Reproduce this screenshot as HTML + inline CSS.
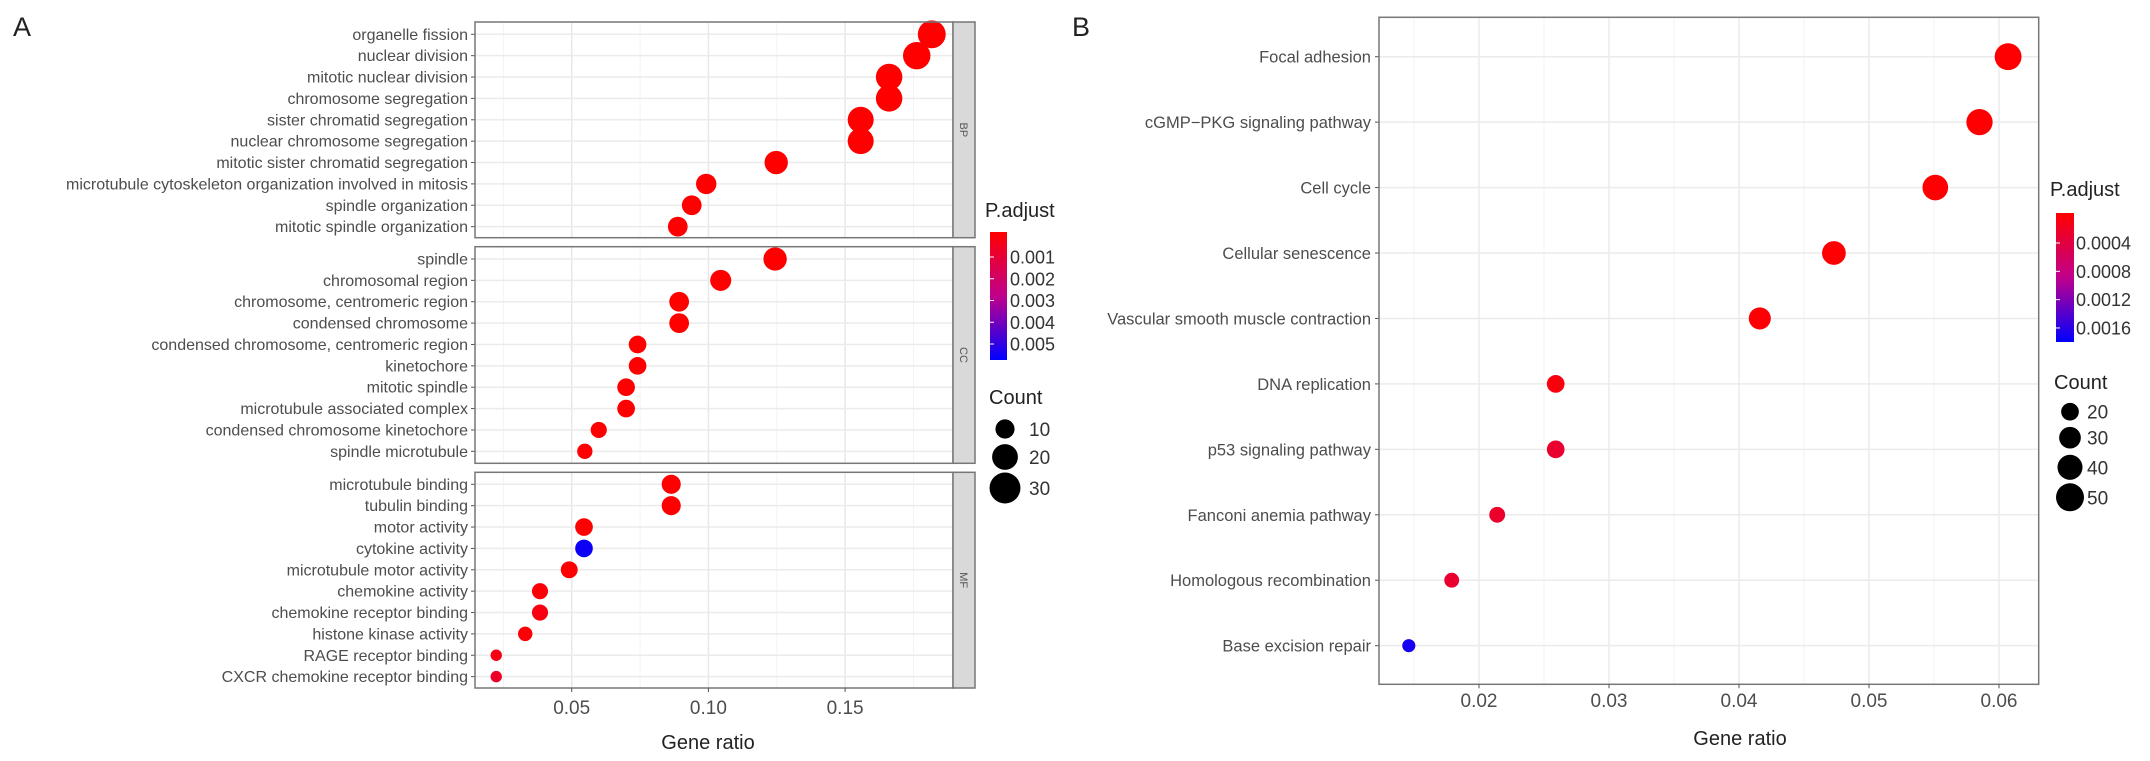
<!DOCTYPE html>
<html><head><meta charset="utf-8"><style>
html,body{margin:0;padding:0;background:#fff}
svg{display:block;font-family:"Liberation Sans",Arial,sans-serif}
</style></head><body>
<svg id="chart" width="2150" height="761" viewBox="0 0 2150 761" xmlns="http://www.w3.org/2000/svg">
<defs>
<linearGradient id="gradA" x1="0" y1="0" x2="0" y2="1"><stop offset="0" stop-color="#ff0000"/><stop offset="0.5" stop-color="#c0008c"/><stop offset="1" stop-color="#0000ff"/></linearGradient>
<linearGradient id="gradB" x1="0" y1="0" x2="0" y2="1"><stop offset="0" stop-color="#ff0000"/><stop offset="0.5" stop-color="#c0008c"/><stop offset="1" stop-color="#0000ff"/></linearGradient>
</defs>
<text x="13" y="36" font-size="27" fill="#222">A</text>
<text x="1072" y="36" font-size="27" fill="#222">B</text>
<g id="gA"></g>
<g id="gB"></g>
</svg>
<script>
// ---------- Panel A data ----------
const bpTerms=["organelle fission","nuclear division","mitotic nuclear division","chromosome segregation","sister chromatid segregation","nuclear chromosome segregation","mitotic sister chromatid segregation","microtubule cytoskeleton organization involved in mitosis","spindle organization","mitotic spindle organization"];
const bpRatio=[0.1817,0.1762,0.1661,0.1661,0.1557,0.1557,0.1248,0.0992,0.0939,0.0888];
const bpCount=[30,29,27,27,26,26,21,16,15,15];
const bpPadj=[0.00001,0.00001,0.00001,0.00001,0.00001,0.00001,0.00001,0.00002,0.00002,0.00003];
const ccTerms=["spindle","chromosomal region","chromosome, centromeric region","condensed chromosome","condensed chromosome, centromeric region","kinetochore","mitotic spindle","microtubule associated complex","condensed chromosome kinetochore","spindle microtubule"];
const ccRatio=[0.1244,0.1045,0.0893,0.0893,0.0741,0.0741,0.0699,0.0699,0.0599,0.0548];
const ccCount=[21,17,15,15,12,12,12,12,10,9];
const ccPadj=[0.00001,0.00001,0.00002,0.00002,0.00003,0.00003,0.00003,0.00004,0.00005,0.00005];
const mfTerms=["microtubule binding","tubulin binding","motor activity","cytokine activity","microtubule motor activity","chemokine activity","chemokine receptor binding","histone kinase activity","RAGE receptor binding","CXCR chemokine receptor binding"];
const mfRatio=[0.0864,0.0864,0.0545,0.0545,0.0491,0.0384,0.0384,0.033,0.0224,0.0224];
const mfCount=[14,14,12,12,11,10,10,8,5,5];
const mfPadj=[0.00002,0.00002,0.00005,0.0055,0.00005,0.0001,0.0003,0.0001,0.0004,0.0008];
const aTicks=[0.05,0.10,0.15];
const aTickLabels=["0.05","0.10","0.15"];
const aMinor=[0.025,0.075,0.125,0.175];
const aLegPadj=[0.001,0.002,0.003,0.004,0.005];
const aLegCount=[10,20,30];
// ---------- Panel B data ----------
const bTerms=["Focal adhesion","cGMP\u2212PKG signaling pathway","Cell cycle","Cellular senescence","Vascular smooth muscle contraction","DNA replication","p53 signaling pathway","Fanconi anemia pathway","Homologous recombination","Base excision repair"];
const bRatio=[0.0607,0.0585,0.0551,0.0473,0.0416,0.0259,0.0259,0.0214,0.0179,0.0146];
const bCount=[46,44,42,36,31,20,20,16,14,11];
const bPadj=[0.00001,0.00001,0.00001,0.00001,0.00002,0.00008,0.0003,0.00028,0.0003,0.0017];
const bTicks=[0.02,0.03,0.04,0.05,0.06];
const bTickLabels=["0.02","0.03","0.04","0.05","0.06"];
const bMinor=[0.015,0.025,0.035,0.045,0.055];
const bLegPadj=[0.0004,0.0008,0.0012,0.0016];
const bLegCount=[20,30,40,50];

const NS="http://www.w3.org/2000/svg";
function mk(parent,tag,attrs,text){const e=document.createElementNS(NS,tag);for(const k in attrs)e.setAttribute(k,attrs[k]);if(text!==undefined)e.textContent=text;parent.appendChild(e);return e;}
function colorFor(p,max){let t=Math.max(0,Math.min(1,p/max));
 // red -> magenta/purple -> blue
 let r,g,b;if(t<0.5){const u=t/0.5;r=255-(255-192)*u;g=0;b=140*u;}else{const u=(t-0.5)/0.5;r=192*(1-u);g=0;b=140+(255-140)*u;}
 return `rgb(${Math.round(r)},${Math.round(g)},${Math.round(b)})`;}

// ---------- Panel A ----------
const gA=document.getElementById('gA');
const axL=475,axR=953;
const xA=v=>435+(v)*2734;
const panels=[
 {name:"bp",strip:"BP",terms:bpTerms,ratio:bpRatio,count:bpCount,padj:bpPadj,top:22,bot:237.7,y0:34.3},
 {name:"cc",strip:"CC",terms:ccTerms,ratio:ccRatio,count:ccCount,padj:ccPadj,top:246.7,bot:463.3,y0:259},
 {name:"mf",strip:"MF",terms:mfTerms,ratio:mfRatio,count:mfCount,padj:mfPadj,top:472.3,bot:688,y0:484.3}];
const stepA=21.37;
const rA=c=>2.55*Math.sqrt(c);
const padjMaxA=0.0057;
panels.forEach(p=>{
 const g=mk(gA,'g',{});
 
 
 const bg=mk(g,'rect',{x:axL,y:p.top,width:axR-axL,height:p.bot-p.top,fill:'#fff'});
 
 
 aMinor.forEach(v=>{const l=mk(g,'line',{x1:xA(v),x2:xA(v),y1:p.top,y2:p.bot,stroke:'#f3f3f3','stroke-width':1});
  
  });
 aTicks.forEach(v=>{const l=mk(g,'line',{x1:xA(v),x2:xA(v),y1:p.top,y2:p.bot,stroke:'#e8e8e8','stroke-width':1.5});
  
  });
 p.terms.forEach((t,i)=>{const y=p.y0+i*stepA;
  const l=mk(g,'line',{x1:axL,x2:axR,y1:y,y2:y,stroke:'#ebebeb','stroke-width':1.5});
  
  
  const tk=mk(g,'line',{x1:axL-4,x2:axL,y1:y,y2:y,stroke:'#555','stroke-width':1});
  
  
  const tx=mk(g,'text',{x:axL-7,y:y+5.5,'text-anchor':'end','font-size':16,fill:'#4d4d4d'},t);
  
  
 });
 p.terms.forEach((t,i)=>{const y=p.y0+i*stepA;
  const c=mk(g,'circle',{cx:xA(p.ratio[i]),cy:y,r:rA(p.count[i]),fill:colorFor(p.padj[i],padjMaxA)});
  
  
 });
 const br=mk(g,'rect',{x:axL,y:p.top,width:axR-axL,height:p.bot-p.top,fill:'none',stroke:'#777','stroke-width':1.5});
 
 
 const st=mk(g,'rect',{x:axR,y:p.top,width:22,height:p.bot-p.top,fill:'#d9d9d9',stroke:'#777','stroke-width':1.5});
 
 
 const cy=(p.top+p.bot)/2;
 const sl=mk(g,'text',{x:964,y:cy,'text-anchor':'middle','font-size':11,fill:'#555',transform:`rotate(90 964 ${cy})`,dy:4},p.strip);
 
 
});
aTicks.forEach((v,i)=>{
 const tk=mk(gA,'line',{x1:xA(v),x2:xA(v),y1:688,y2:692,stroke:'#555','stroke-width':1});
 
 
 const t=mk(gA,'text',{x:xA(v),y:714,'text-anchor':'middle','font-size':19,fill:'#4d4d4d'},aTickLabels[i]);
 
 
});
{const t=mk(gA,'text',{x:708,y:749,'text-anchor':'middle','font-size':20,fill:'#222'},'Gene ratio');
 
 }
// legend A
{const lg=mk(gA,'g',{});
 
 
 const t=mk(lg,'text',{x:985,y:217,'font-size':20,fill:'#222'},'P.adjust');
 
 
 const bar=mk(lg,'rect',{x:990,y:232,width:17,height:128,fill:'url(#gradA)'});
 
 
 const yP=v=>257+(v-0.001)*21750;
 aLegPadj.forEach(v=>{
  const tt=mk(lg,'text',{x:1010,y:yP(v)+6.5,'font-size':18,fill:'#333'},v.toFixed(3));
  
  
  const tk=mk(lg,'line',{x1:990,x2:994,y1:yP(v),y2:yP(v),stroke:'#fff','stroke-width':1});
  
  
 });
 const ct=mk(lg,'text',{x:989,y:404,'font-size':20,fill:'#222'},'Count');
 
 
 const ys=[429,457,488];
 aLegCount.forEach((c,i)=>{
  const d=mk(lg,'circle',{cx:1005,cy:ys[i],r:rA(c)+1.5,fill:'#000'});
  
  
  const tt=mk(lg,'text',{x:1029,y:ys[i]+7,'font-size':19,fill:'#333'},String(c));
  
  
 });
}

// ---------- Panel B ----------
const gB=document.getElementById('gB');
const bL=1379,bR=2038.7,bT=17.3,bBot=684.3;
const xB=v=>1479+(v-0.02)*13000;
const yB=i=>56.7+i*65.44;
const rB=c=>1.98*Math.sqrt(c);
const padjMaxB=0.0018;
{const bg=mk(gB,'rect',{x:bL,y:bT,width:bR-bL,height:bBot-bT,fill:'#fff'});
 
 }
bMinor.forEach(v=>{const l=mk(gB,'line',{x1:xB(v),x2:xB(v),y1:bT,y2:bBot,stroke:'#f3f3f3','stroke-width':1});
 
 });
bTicks.forEach(v=>{const l=mk(gB,'line',{x1:xB(v),x2:xB(v),y1:bT,y2:bBot,stroke:'#ebebeb','stroke-width':1.5});
 
 });
bTerms.forEach((t,i)=>{const y=yB(i);
 const l=mk(gB,'line',{x1:bL,x2:bR,y1:y,y2:y,stroke:'#ebebeb','stroke-width':1.5});
 
 
 const tk=mk(gB,'line',{x1:bL-4,x2:bL,y1:y,y2:y,stroke:'#555','stroke-width':1});
 
 
 const tx=mk(gB,'text',{x:bL-8,y:y+6,'text-anchor':'end','font-size':16.5,fill:'#4d4d4d'},t);
 
 
});
bTerms.forEach((t,i)=>{
 const c=mk(gB,'circle',{cx:xB(bRatio[i]),cy:yB(i),r:rB(bCount[i]),fill:colorFor(bPadj[i],padjMaxB)});
 
 
});
{const br=mk(gB,'rect',{x:bL,y:bT,width:bR-bL,height:bBot-bT,fill:'none',stroke:'#777','stroke-width':1.5});
 
 }
bTicks.forEach((v,i)=>{
 const tk=mk(gB,'line',{x1:xB(v),x2:xB(v),y1:bBot,y2:bBot+4,stroke:'#555','stroke-width':1});
 
 
 const t=mk(gB,'text',{x:xB(v),y:707,'text-anchor':'middle','font-size':19,fill:'#4d4d4d'},bTickLabels[i]);
 
 
});
{const t=mk(gB,'text',{x:1740,y:745,'text-anchor':'middle','font-size':20,fill:'#222'},'Gene ratio');
 
 }
{const lg=mk(gB,'g',{});
 
 
 const t=mk(lg,'text',{x:2050,y:196,'font-size':20,fill:'#222'},'P.adjust');
 
 
 const bar=mk(lg,'rect',{x:2056,y:213,width:18,height:129,fill:'url(#gradB)'});
 
 
 const yP=v=>243+(v-0.0004)*70800;
 bLegPadj.forEach(v=>{
  const tt=mk(lg,'text',{x:2076,y:yP(v)+6.5,'font-size':18,fill:'#333'},v.toFixed(4));
  
  
  const tk=mk(lg,'line',{x1:2056,x2:2060,y1:yP(v),y2:yP(v),stroke:'#fff','stroke-width':1});
  
  
 });
 const ct=mk(lg,'text',{x:2054,y:389,'font-size':20,fill:'#222'},'Count');
 
 
 const ys=[411.7,437.7,467.3,497.3];
 bLegCount.forEach((c,i)=>{
  const d=mk(lg,'circle',{cx:2070,cy:ys[i],r:rB(c),fill:'#000'});
  
  
  const tt=mk(lg,'text',{x:2087,y:ys[i]+7,'font-size':19,fill:'#333'},String(c));
  
  
 });
}
</script>
</body></html>
